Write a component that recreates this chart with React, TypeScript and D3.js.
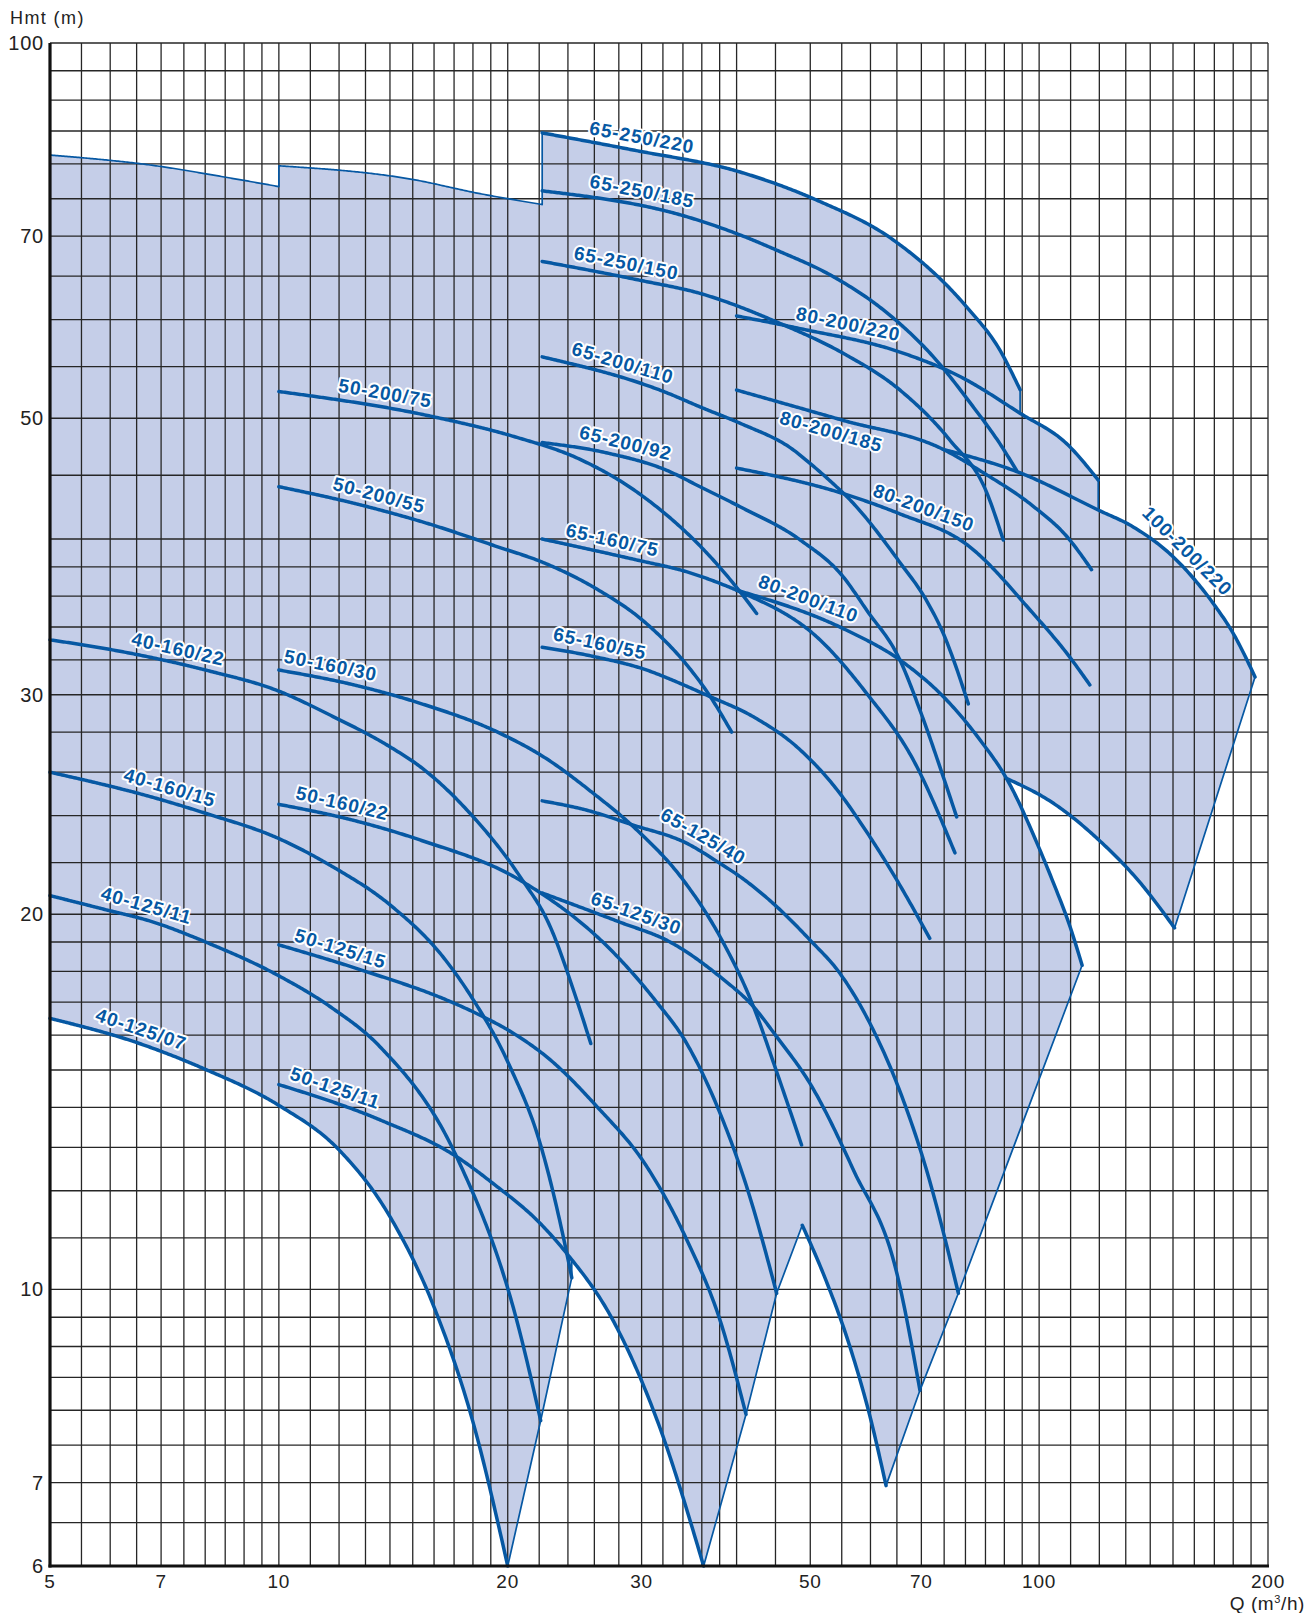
import React from 'react';
import * as d3 from 'd3';

type Pt = [number, number];

// ---------- axis ticks and grid values ----------
const X_TICKS = [5, 7, 10, 20, 30, 50, 70, 100, 200];
const Y_TICKS = [6, 7, 10, 20, 30, 50, 70, 100];
const X_GRID = [5, 5.5, 6, 6.5, 7, 7.5, 8, 8.5, 9, 9.5, 10, 11, 12, 13, 14, 15, 16, 17, 18, 19, 20, 22, 24, 26, 28, 30, 32, 34, 36, 38, 40, 45, 50, 55, 60, 65, 70, 75, 80, 85, 90, 95, 100, 110, 120, 130, 140, 150, 160, 170, 180, 190, 200];
const Y_GRID = [6, 6.5, 7, 7.5, 8, 8.5, 9, 9.5, 10, 11, 12, 13, 14, 15, 16, 17, 18, 19, 20, 22, 24, 26, 28, 30, 32, 34, 36, 38, 40, 45, 50, 55, 60, 65, 70, 75, 80, 85, 90, 95, 100];

// ---------- envelope tops (Q m3/h, H m) ----------
const TOP40: Pt[] = [[5, 81.3], [6.9, 79.7], [8.45, 78.1], [10, 76.7]];
const TOP50: Pt[] = [[10, 79.7], [15.03, 77.7], [18.2, 75.8], [22.2, 74.2]];

// ---------- pump curves (Q m3/h, H m) ----------
const C40_125_07: Pt[] = [[5, 16.5], [6.5, 15.78], [8, 15.02], [10, 14.05], [12, 12.94], [14, 11.44], [16, 9.68], [18, 7.83], [20, 6]];
const C40_125_11: Pt[] = [[5, 20.7], [5.86, 20.2], [6.86, 19.7], [8.01, 19.0], [10, 17.85], [11.7, 16.85], [13.58, 15.66], [17.13, 12.78], [20.55, 9.45], [22.1, 7.85]];
const C40_160_15: Pt[] = [[5, 26.0], [6.86, 24.8], [8.01, 24.1], [10, 23.0], [11.67, 21.9], [14.07, 20.3], [16.4, 18.52], [17.84, 17.24], [20.14, 15.09], [22.06, 13.1], [23.91, 10.7], [24.28, 10.22]];
const C40_160_22: Pt[] = [[5, 33.2], [5.86, 32.7], [6.86, 32.1], [8.01, 31.4], [10, 30.2], [11.67, 28.9], [14.07, 27.2], [15.34, 26.27], [17.84, 24.1], [20.76, 21.44], [22.7, 19.6], [24.65, 17.07], [25.72, 15.75]];

const C50_125_11: Pt[] = [[10, 14.6], [13.58, 13.68], [17.13, 12.78], [19.14, 12.16], [22.06, 11.3], [23.91, 10.69], [27.5, 9.45], [31.7, 7.75], [36.2, 6]];
const C50_125_15: Pt[] = [[10, 18.9], [12.81, 18.05], [16.62, 17.07], [18.2, 16.65], [20.35, 16.05], [22.5, 15.37], [26.2, 14.02], [30.47, 12.55], [34.4, 10.96], [38.04, 9.45], [41.16, 7.94]];
const C50_160_22: Pt[] = [[10, 24.5], [12.5, 23.8], [15.34, 22.94], [20.76, 21.3], [27.96, 18.46], [31.24, 17.07], [34.4, 15.75], [38.04, 13.85], [41.24, 12.09], [45.16, 9.93]];
const C50_160_30: Pt[] = [[10, 31.4], [12.5, 30.57], [15.34, 29.53], [19.54, 27.94], [22.27, 26.76], [25.93, 25.0], [29.26, 23.51], [34.04, 21.3], [38.04, 19.19], [42.1, 16.86], [45.16, 14.95], [48.7, 13.06]];
const C50_200_55: Pt[] = [[10, 44.06], [12.81, 42.6], [15.93, 41.05], [19.23, 39.5], [22.27, 38.3], [25.93, 36.6], [30.47, 34.2], [34.4, 31.7], [36.53, 30.2], [39.41, 28.0]];
const C50_200_75: Pt[] = [[10, 52.53], [15.96, 50.14], [20.47, 48.3], [24.67, 46.46], [29.78, 43.5], [37.27, 38.48], [40.42, 36.29], [42.5, 34.86]];

const C65_250_220: Pt[] = [[22.2, 84.7], [29.26, 82.06], [40.42, 78.8], [51.0, 74.8], [64.3, 69.5], [80.3, 61.4], [88.8, 56.7], [94.4, 52.7]];
const C65_250_185: Pt[] = [[22.2, 76.1], [34.4, 72.55], [40.42, 70.15], [45.16, 68.2], [53.6, 64.95], [62.4, 61.07], [72.6, 56.0], [81.9, 51.06], [88.8, 47.7], [93.4, 45.4]];
const C65_250_150: Pt[] = [[22.2, 66.8], [29.9, 64.5], [35.8, 62.97], [45.6, 59.58], [55.25, 56.37], [65.6, 52.67], [76.3, 48.02], [85.3, 43.6], [89.7, 39.93]];
const C65_200_110: Pt[] = [[22.2, 56.0], [32.4, 52.4], [35.8, 51.06], [40.42, 49.54], [47.5, 47.16], [49.96, 46.0], [53.6, 44.3], [56.4, 43.0], [65.6, 38.3], [71.1, 35.7], [74.8, 33.6], [80.7, 29.5]];
const C65_200_92: Pt[] = [[22.2, 47.8], [26.99, 46.9], [32.4, 45.4], [35.8, 44.06], [40.42, 42.46], [48.5, 39.93], [55.25, 37.3], [59.3, 35.08], [65.6, 31.99], [69.7, 29.16], [74.8, 25.78], [77.9, 23.94]];
const C65_160_75: Pt[] = [[22.2, 40.0], [29.57, 38.48], [34.4, 37.65], [38.04, 36.85], [40.42, 36.29], [51.5, 33.2], [59.3, 30.08], [68.3, 26.6], [77.5, 22.4]];
const C65_160_55: Pt[] = [[22.2, 32.75], [25.93, 32.2], [30.47, 31.4], [33.7, 30.64], [36.53, 29.98], [42.1, 28.8], [48.0, 27.25], [54.7, 25.0], [58.7, 23.51], [65.0, 21.3], [71.8, 19.13]];
const C65_125_40: Pt[] = [[22.2, 24.66], [25.4, 24.24], [29.26, 23.58], [34.4, 22.8], [38.04, 21.97], [40.42, 21.44], [44.7, 20.4], [49.96, 19.07], [54.7, 17.93], [59.9, 16.35], [65.0, 14.63], [71.1, 12.47], [78.3, 9.93]];
const C65_125_30: Pt[] = [[22.2, 20.8], [27.96, 19.73], [32.7, 19.0], [38.04, 17.82], [42.1, 16.86], [45.16, 15.95], [49.96, 14.63], [56.98, 12.47], [65.0, 10.3], [69.7, 8.3]];
const LOW65: Pt[] = [[48.8, 11.26], [52.2, 10.24], [56.5, 8.96], [60.1, 7.85], [62.9, 6.96]];

const C80_200_220: Pt[] = [[40.0, 60.4], [48.5, 59.0], [65.6, 56.5], [78.7, 54.0], [94.4, 50.46], [108.7, 47.7], [119.6, 44.6]];
const C80_200_185: Pt[] = [[40.0, 52.67], [55.25, 49.8], [74.8, 47.2], [84.5, 45.2], [98.2, 42.5], [108.7, 40.2], [117.2, 37.8]];
const C80_200_150: Pt[] = [[40.0, 45.6], [55.25, 43.5], [65.6, 41.9], [80.3, 39.6], [98.2, 34.86], [108.7, 32.4], [116.6, 30.55]];
const C80_200_110: Pt[] = [[40.0, 36.4], [55.8, 33.8], [65.6, 31.99], [75.6, 29.7], [83.6, 27.6], [90.6, 25.7], [100.3, 22.5], [104.4, 21.2], [109.8, 19.55], [113.9, 18.2]];
const LOW100: Pt[] = [[90.6, 25.7], [103.9, 24.6], [120.2, 22.9], [135.8, 21.2], [150.7, 19.5]];
const C100_200_220: Pt[] = [[74.8, 47.2], [94.4, 45.2], [119.6, 42.2], [133.0, 40.9], [150.1, 38.7], [169.5, 35.5], [180.0, 33.6], [192.3, 31.0]];

const SERIES: [string, Pt[]][] = [
  ['40-125/07', C40_125_07], ['40-125/11', C40_125_11], ['40-160/15', C40_160_15], ['40-160/22', C40_160_22],
  ['50-125/11', C50_125_11], ['50-125/15', C50_125_15], ['50-160/22', C50_160_22], ['50-160/30', C50_160_30],
  ['50-200/55', C50_200_55], ['50-200/75', C50_200_75],
  ['65-250/220', C65_250_220], ['65-250/185', C65_250_185], ['65-250/150', C65_250_150],
  ['65-200/110', C65_200_110], ['65-200/92', C65_200_92], ['65-160/75', C65_160_75], ['65-160/55', C65_160_55],
  ['65-125/40', C65_125_40], ['65-125/30', C65_125_30],
  ['80-200/220', C80_200_220], ['80-200/185', C80_200_185], ['80-200/150', C80_200_150], ['80-200/110', C80_200_110],
  ['100-200/220', C100_200_220],
];

// label anchor flow (m3/h) along each curve
const LABEL_Q: Record<string, number> = {
  '65-250/220': 29.8, '65-250/185': 29.8, '65-250/150': 28.4, '80-200/220': 55.6, '65-200/110': 28.0,
  '50-200/75': 13.7, '80-200/185': 53.9, '65-200/92': 28.3, '80-200/150': 69.5, '100-200/220': 152,
  '50-200/55': 13.4, '65-160/75': 27.2, '80-200/110': 49.0, '65-160/55': 26.2, '40-160/22': 7.3,
  '50-160/30': 11.6, '65-125/40': 35.4, '40-160/15': 7.1, '50-160/22': 12.0, '65-125/30': 29.1,
  '40-125/11': 6.62, '50-125/15': 11.9, '40-125/07': 6.5, '50-125/11': 11.7,
};
const LABELS_BELOW = ['80-200/185'];

// ---------- monotone cubic interpolation in log-log space ----------
function makeInterp(pts: Pt[]) {
  const xs = pts.map(p => Math.log10(p[0]));
  const ys = pts.map(p => Math.log10(p[1]));
  const n = xs.length;
  const h: number[] = [], d: number[] = [];
  for (let i = 0; i < n - 1; i++) { h[i] = xs[i + 1] - xs[i]; d[i] = (ys[i + 1] - ys[i]) / h[i]; }
  const m: number[] = new Array(n).fill(0);
  if (n === 2) { m[0] = d[0]; m[1] = d[0]; }
  else {
    for (let i = 1; i < n - 1; i++) {
      const s0 = d[i - 1], s1 = d[i];
      if (s0 * s1 <= 0) { m[i] = 0; continue; }
      const p = (s0 * h[i] + s1 * h[i - 1]) / (h[i - 1] + h[i]);
      m[i] = (Math.sign(s0) + Math.sign(s1)) * Math.min(Math.abs(s0), Math.abs(s1), 0.5 * Math.abs(p));
    }
    m[0] = (3 * d[0] - m[1]) / 2;
    m[n - 1] = (3 * d[n - 2] - m[n - 2]) / 2;
  }
  return (q: number) => {
    const x = Math.log10(q);
    let i = 0;
    while (i < n - 2 && x > xs[i + 1]) i++;
    const t = (x - xs[i]) / h[i];
    const t2 = t * t, t3 = t2 * t;
    const y = (2 * t3 - 3 * t2 + 1) * ys[i] + (t3 - 2 * t2 + t) * h[i] * m[i] + (-2 * t3 + 3 * t2) * ys[i + 1] + (t3 - t2) * h[i] * m[i + 1];
    return Math.pow(10, y);
  };
}

function sample(pts: Pt[], qa?: number, qb?: number): Pt[] {
  const f = makeInterp(pts);
  const a = Math.log10(qa ?? pts[0][0]);
  const b = Math.log10(qb ?? pts[pts.length - 1][0]);
  const n = Math.max(2, Math.ceil(Math.abs(b - a) / 0.002));
  const out: Pt[] = [];
  for (let k = 0; k <= n; k++) {
    const q = Math.pow(10, a + (b - a) * k / n);
    out.push([q, f(q)]);
  }
  return out;
}

const first = (p: Pt[]) => p[0];
const last = (p: Pt[]) => p[p.length - 1];

const BLUE = '#0658a3';
const FILL = '#c5cee8';
const GRID = '#262626';
const FONT = "'Liberation Sans', Arial, Helvetica, sans-serif";

export default function App() {
  const x = d3.scaleLog().domain([5, 200]).range([50, 1268]);
  const y = d3.scaleLog().domain([6, 100]).range([1566, 43]);
  const line = d3.line<Pt>().x(d => x(d[0])).y(d => y(d[1]));

  // union outline of the operating field
  const outline: Pt[] = [
    ...sample(TOP40),
    ...sample(TOP50),
    ...sample(C65_250_220),
    ...sample(C80_200_220, last(C65_250_220)[0], last(C80_200_220)[0]),
    ...sample(C100_200_220, last(C80_200_220)[0], last(C100_200_220)[0]),
    ...sample(LOW100).reverse(),
    ...sample(C80_200_110, first(LOW100)[0], last(C80_200_110)[0]),
    last(C65_125_40), last(C65_125_30),
    ...sample(LOW65).reverse(),
    last(C50_160_22), last(C50_125_15),
    ...sample(C50_125_11, last(C40_160_15)[0], last(C50_125_11)[0]).reverse(),
    last(C40_160_15), last(C40_125_11),
    ...sample(C40_125_07).reverse(),
  ];
  const outlineD = (line(outline) || '') + 'Z';

  const labelEls = SERIES.map(([name, pts]) => {
    const q = LABEL_Q[name];
    if (!q) return null;
    const f = makeInterp(pts);
    const px = x(q), py = y(f(q));
    const ax = x(q / 1.04), ay = y(f(q / 1.04));
    const bx = x(q * 1.04), by = y(f(q * 1.04));
    const ang = Math.atan2(by - ay, bx - ax);
    const side = LABELS_BELOW.includes(name) ? -1 : 1;
    const off = 14 * side;
    const cx = px + Math.sin(ang) * off;
    const cy = py - Math.cos(ang) * off;
    return (
      <text key={'l' + name} x={0} y={0} transform={`translate(${cx},${cy}) rotate(${(ang * 180) / Math.PI})`}
        textAnchor="middle" dominantBaseline="central" fontSize={19} fontWeight="bold" letterSpacing={1}
        fill={BLUE} stroke="#ffffff" strokeWidth={4} strokeLinejoin="round" paintOrder="stroke">
        {name}
      </text>
    );
  });

  return (
    <svg width={1313} height={1613} style={{ position: 'absolute', left: 0, top: 0 }} fontFamily={FONT}>
      <rect x={0} y={0} width={1313} height={1613} fill="#ffffff" />
      <path d={outlineD} fill={FILL} stroke="none" />
      <g>
        {X_GRID.map(v => (
          <line key={'gx' + v} x1={x(v)} x2={x(v)} y1={y(100)} y2={y(6)} stroke={GRID} strokeWidth={1.3} />
        ))}
        {Y_GRID.map(v => (
          <line key={'gy' + v} x1={x(5)} x2={x(200)} y1={y(v)} y2={y(v)} stroke={GRID} strokeWidth={1.3} />
        ))}
      </g>
      <path d={outlineD} fill="none" stroke={BLUE} strokeWidth={1.7} strokeLinejoin="round" />
      <g fill="none" stroke={BLUE} strokeWidth={3.5} strokeLinecap="round" strokeLinejoin="round">
        {SERIES.map(([name, pts]) => <path key={'c' + name} d={line(sample(pts)) || ''} />)}
        <path d={line(sample(LOW65)) || ''} />
        <path d={line(sample(LOW100)) || ''} />
      </g>
      <g>{labelEls}</g>
      <line x1={x(5)} x2={x(5)} y1={y(100)} y2={y(6) + 1.5} stroke="#111" strokeWidth={3.2} />
      <line x1={x(5) - 1.5} x2={x(200) + 1} y1={y(6)} y2={y(6)} stroke="#111" strokeWidth={3.2} />
      <g fill="#222" letterSpacing={0.8}>
        {Y_TICKS.map(v => (
          <text key={'ty' + v} x={44} y={y(v)} fontSize={20} textAnchor="end" dominantBaseline="central">{v}</text>
        ))}
        {X_TICKS.map(v => (
          <text key={'tx' + v} x={x(v)} y={1588} fontSize={19} textAnchor="middle">{v}</text>
        ))}
      </g>
      <text x={10} y={24} fontSize={18} fill="#222" letterSpacing={1.4}>Hmt (m)</text>
      <text x={1305} y={1610} fontSize={19} fill="#222" textAnchor="end" letterSpacing={0.6}>
        Q (m<tspan dy={-7} fontSize={11}>3</tspan><tspan dy={7}>/h)</tspan>
      </text>
    </svg>
  );
}
